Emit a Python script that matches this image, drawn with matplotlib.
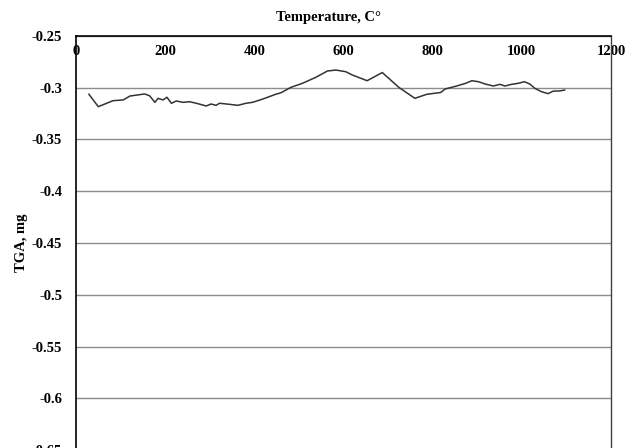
import matplotlib
matplotlib.use("Agg")
import matplotlib.pyplot as plt
from matplotlib.ticker import FuncFormatter

# TGA trace: temperature (C) vs mass change (mg)
temperature = [29, 50, 83, 106, 121, 154, 165, 177, 184, 195, 204, 214, 225,
               240, 255, 270, 292, 303, 314, 322, 344, 363, 381, 396, 419,
               448, 460, 482, 508, 538, 564, 583, 605, 620, 653, 687, 724,
               760, 787, 818, 828, 854, 874, 888, 903, 918, 936, 951, 962,
               977, 992, 1006, 1018, 1029, 1044, 1059, 1070, 1085, 1096]
tga = [-0.3063, -0.3183, -0.3125, -0.3118, -0.3080, -0.3060, -0.3077,
       -0.3141, -0.3102, -0.3118, -0.3092, -0.3150, -0.3128, -0.3141,
       -0.3135, -0.3150, -0.3176, -0.3157, -0.3170, -0.3150, -0.3160,
       -0.3170, -0.3150, -0.3141, -0.3109, -0.3063, -0.3048, -0.2996,
       -0.2957, -0.2899, -0.2838, -0.2829, -0.2845, -0.2877, -0.2932,
       -0.2853, -0.2996, -0.3102, -0.3063, -0.3046, -0.3012, -0.2983,
       -0.2957, -0.2932, -0.2942, -0.2964, -0.2983, -0.2967, -0.2983,
       -0.2967, -0.2957, -0.2942, -0.2964, -0.3005, -0.3038, -0.3057,
       -0.3033, -0.3031, -0.3022]

x_ticks = [0, 200, 400, 600, 800, 1000, 1200]
y_ticks = [-0.65, -0.6, -0.55, -0.5, -0.45, -0.4, -0.35, -0.3, -0.25]

font = "Liberation Serif"
W, H = 637, 448
fig = plt.figure(figsize=(W / 100, H / 100), dpi=100)
ax = fig.add_axes([76 / W, 1 - 450 / H, (611 - 76) / W, (450 - 36) / H])

ax.plot(temperature, tga, color="#333333", lw=1.1, zorder=3)

ax.set_xlim(0, 1200)
ax.set_ylim(-0.65, -0.25)
ax.set_xticks(x_ticks)
ax.set_yticks(y_ticks)
ax.yaxis.set_major_formatter(FuncFormatter(lambda v, p: f"{v:g}"))

ax.grid(axis="y", color="#8c8c8c", lw=1.0)
ax.set_axisbelow(True)

# x labels sit just under the top edge, inside the plot area
ax.xaxis.set_ticks_position("top")
ax.tick_params(axis="x", length=0, labeltop=True, labelbottom=False,
               pad=-16)
ax.tick_params(axis="y", length=0, pad=10)
for lbl in ax.get_xticklabels() + ax.get_yticklabels():
    lbl.set_fontfamily(font)
    lbl.set_fontweight("bold")
    lbl.set_fontsize(10.5)

for side in ("top", "left"):
    ax.spines[side].set_color("black")
    ax.spines[side].set_linewidth(1.2)
ax.spines["right"].set_color("#404040")
ax.spines["right"].set_linewidth(1.0)
ax.spines["bottom"].set_color("#404040")

fig.text(328 / W, 1 - 17 / H, "Temperature, C°", ha="center", va="center",
         fontfamily=font, fontweight="bold", fontsize=10.5)
fig.text(21 / W, 1 - 243 / H, "TGA, mg", ha="center", va="center",
         rotation=90, fontfamily=font, fontweight="bold", fontsize=10.5)

fig.savefig("out.png", dpi=100)
